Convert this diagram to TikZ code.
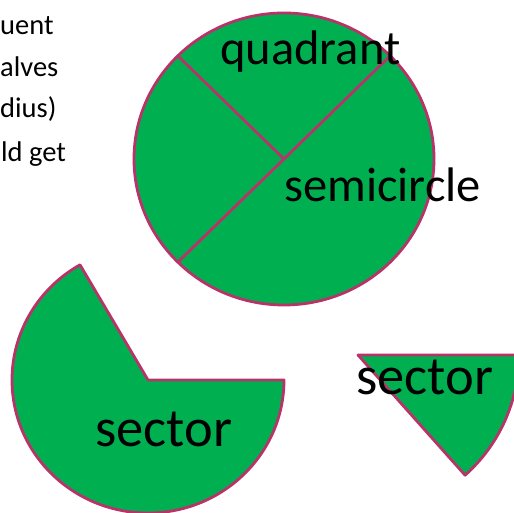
\documentclass[tikz,border=0pt]{standalone}
\usepackage{fontspec}
\setmainfont{Carlito}
\definecolor{pgreen}{HTML}{00B050}
\definecolor{pedge}{HTML}{B8336A}
\begin{document}
\begin{tikzpicture}[x=1pt,y=1pt,
  shapefill/.style={fill=pgreen,draw=pedge,line width=2.8pt,line join=round},
  cutline/.style={draw=pedge,line width=2.8pt},
  lbl/.style={anchor=base west,inner sep=0pt,font=\fontsize{48.5}{48.5}\selectfont},
  biglbl/.style={anchor=base west,inner sep=0pt,font=\fontsize{54.5}{54.5}\selectfont},
  side/.style={anchor=base west,inner sep=0pt,font=\fontsize{28.5}{28.5}\selectfont}]
\useasboundingbox (0,0) rectangle (514,513);
\clip (0,0) rectangle (514,513);
% left paragraph fragments
\node[side] (t1) at (0,478) {uent};
\node[side] (t2) at (0,436) {alves};
\node[side] (t3) at (0,395) {dius)};
\node[side] (t4) at (1,351) {ld get};
% big circle
\coordinate (c) at (284,354);
\coordinate (q1) at (178,457);
\coordinate (d1) at (390,457);
\coordinate (d2) at (178,251);
\draw[shapefill] (c) ellipse[x radius=150,y radius=146];
\draw[cutline] (q1) -- (c);
\draw[cutline] (d1) -- (d2);
% bottom-left sector
\coordinate (s1) at (148,133);
\draw[shapefill] (s1) -- ++(136,0) arc[start angle=0,end angle=-240,x radius=136,y radius=133] -- cycle;
% right sector
\coordinate (s2) at (358,158);
\draw[shapefill] (s2) -- ++(161,0) arc[start angle=0,end angle=-48.3,radius=161] -- cycle;
% labels
\node[lbl] (quad) at (220,448) {quadrant};
\node[lbl] (semi) at (284,311) {semicircle};
\node[biglbl] (sec1) at (95,66) {sector};
\node[biglbl] (sec2) at (356,118) {sector};
\end{tikzpicture}
\end{document}
